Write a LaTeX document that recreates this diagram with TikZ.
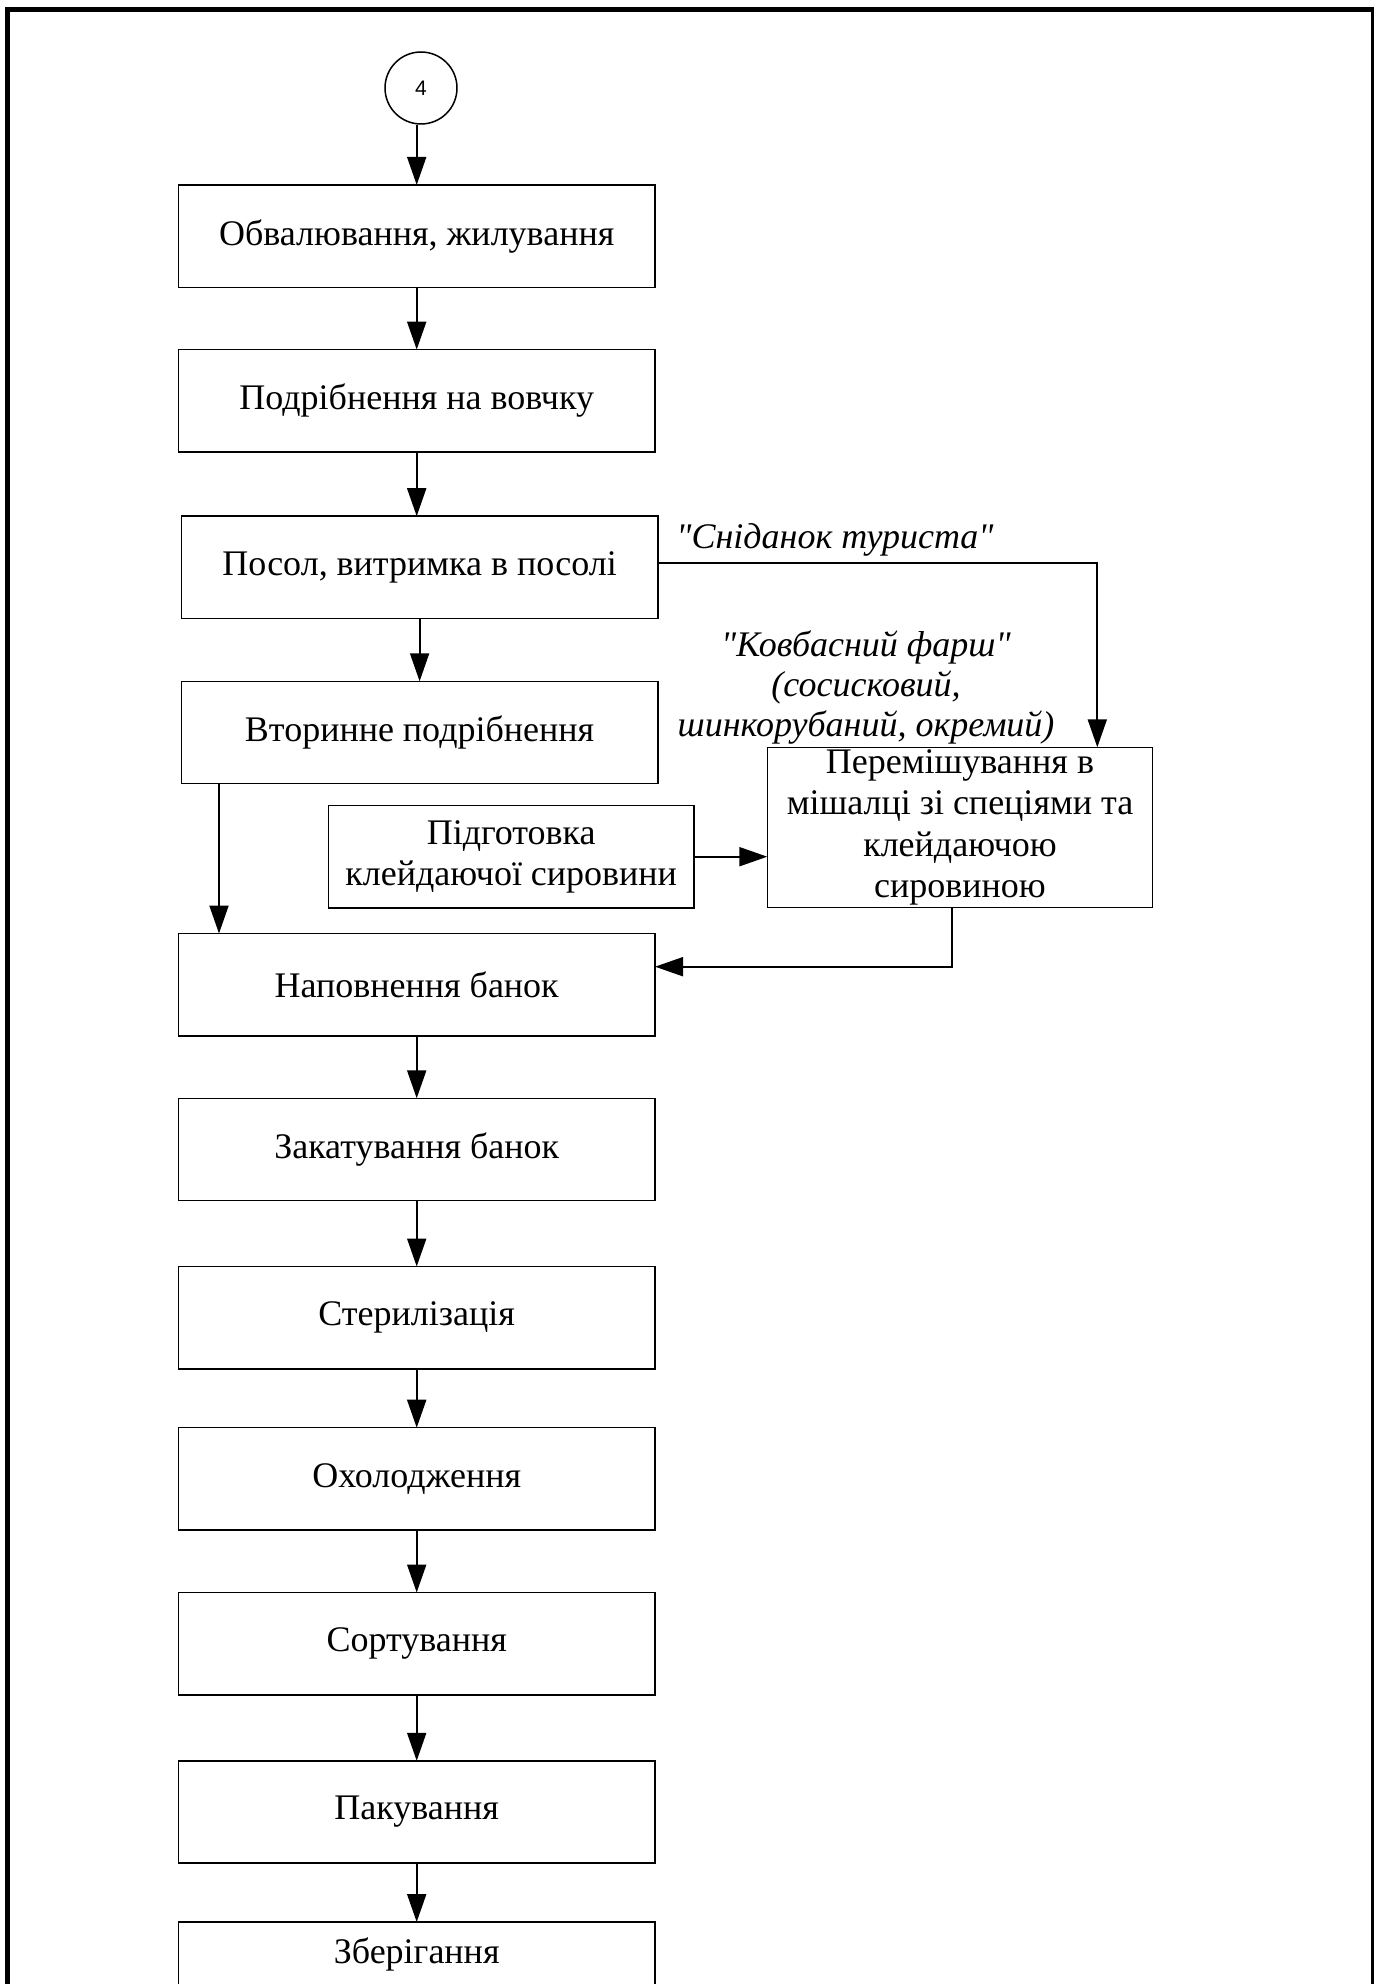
\documentclass[tikz,border=0pt]{standalone}
\usepackage{fontspec}
\setmainfont{Liberation Serif}[Ligatures=TeXOff]
\newfontfamily\sansf{Liberation Sans}
\usetikzlibrary{arrows.meta,calc}
\begin{document}
\begin{tikzpicture}[x=0.5pt,y=-0.5pt,
  txt/.style={font=\fontsize{18pt}{20.75pt}\selectfont},
  box/.style={txt, draw, line width=0.75pt, inner sep=0pt, outer sep=0pt,
    minimum width=238.35pt, minimum height=51.2pt, align=center},
  arr/.style={line width=1pt, -{Triangle[length=14pt,width=9.5pt]}},
  lbl/.style={font=\fontsize{18pt}{20pt}\selectfont\itshape, inner sep=0pt, align=center},
  frame/.style={line width=2.5pt}]
\useasboundingbox (0,0) rectangle (1374,1984);
\clip (0,0) rectangle (1374,1984);
% outer frame
\draw[frame] (7,2100) -- (7,9.2) -- (1373,9.2) -- (1373,2100);
% connector circle
\node[draw, circle, line width=0.75pt, minimum size=36pt, inner sep=0pt,
  font=\sansf\fontsize{10.5pt}{12pt}\selectfont] (c) at (421,88) {4};
% main column
\node[box] (b1) at (416.7,236.1) {Обвалювання, жилування};
\node[box] (b2) at (416.7,400.8) {Подрібнення на вовчку};
\node[box] (b3) at (419.6,567.4) {Посол, витримка в посолі};
\node[box] (b4) at (419.6,732.5) {Вторинне подрібнення};
\node[box] (b7) at (416.7,984.7) {Наповнення банок};
\node[box] (b8) at (416.7,1149.5) {Закатування банок};
\node[box] (b9) at (416.7,1317.7) {Стерилізація};
\node[box] (b10) at (416.7,1478.9) {Охолодження};
\node[box] (b11) at (416.7,1643.7) {Сортування};
\node[box] (b12) at (416.7,1812) {Пакування};
\node[box, minimum height=32pt] (b13) at (416.7,1954) {Зберігання};
% side boxes
\node[box, minimum width=182.85pt] (prep) at (511.2,856.7) {Підготовка\\клейдаючої сировини};
\node[box, minimum width=192.7pt, minimum height=80pt] (mix) at (960,827.3)
  {Перемішування в\\мішалці зі спеціями та\\клейдаючою\\сировиною};
% labels
\node[lbl, anchor=base] (l1) at (835,548) {"Сніданок туриста"};
\node[lbl] (l2) at (866,687) {"Ковбасний фарш"\\(сосисковий,\\шинкорубаний, окремий)};
% helper coordinates
\coordinate (k1) at (1097.3,563.3);
\coordinate (k2) at (219,0);
\coordinate (k3) at (951.7,966.7);
% connectors
\draw[arr] (c.south -| b1.north) -- (b1.north);
\draw[arr] (b1.south) -- (b2.north);
\draw[arr] (b2.south) -- (b2.south |- b3.north);
\draw[arr] (b3.south) -- (b4.north);
\draw[arr] (b3.east |- k1) -- (k1) -- (k1 |- mix.north);
\draw[arr] (b4.south -| k2) -- (b7.north -| k2);
\draw[arr] (prep.east) -- (prep.east -| mix.west);
\draw[arr] (mix.south -| k3) -- (k3) -- (k3 -| b7.east);
\draw[arr] (b7.south) -- (b8.north);
\draw[arr] (b8.south) -- (b9.north);
\draw[arr] (b9.south) -- (b10.north);
\draw[arr] (b10.south) -- (b11.north);
\draw[arr] (b11.south) -- (b12.north);
\draw[arr] (b12.south) -- (b13.north);
\end{tikzpicture}
\end{document}
